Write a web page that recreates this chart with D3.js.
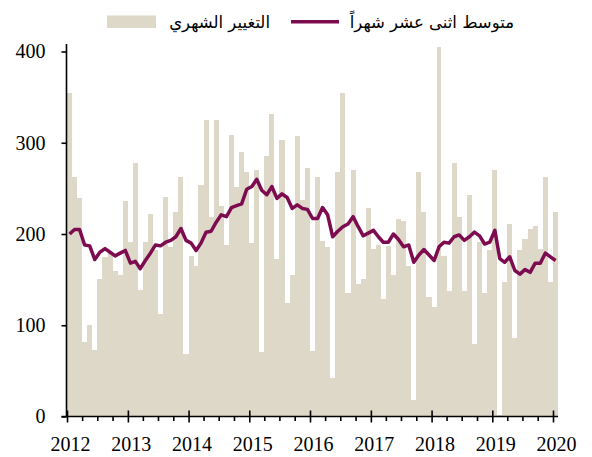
<!DOCTYPE html>
<html><head><meta charset="utf-8">
<script src="https://cdn.jsdelivr.net/npm/d3@7"></script>
<style>body{margin:0;background:#fff}svg{display:block}</style>
</head><body>
<svg id="chart" width="592" height="457"></svg>
<script>
// ---- data ----
const startYear = 2012;
const monthlyChange = [
  355, 263, 239, 82, 100, 73, 151, 175, 180, 160, 155, 236,
  191, 278, 139, 191, 222, 182, 112, 241, 186, 224, 263, 69,
  176, 165, 254, 325, 219, 325, 231, 188, 309, 252, 290, 268,
  190, 270, 71, 285, 332, 173, 303, 124, 155, 307, 237, 272,
  72, 263, 192, 186, 42, 268, 354, 135, 270, 145, 151, 229,
  184, 188, 129, 187, 155, 216, 214, 165, 18, 268, 224, 131,
  120, 405, 176, 137, 278, 219, 137, 243, 79, 191, 135, 182,
  270, 2, 147, 211, 86, 182, 194, 206, 209, 184, 262, 147,
  224
];
const movingAvg12 = [
  200, 205, 205, 188, 187, 172, 180, 184, 180, 176, 179, 182,
  168, 170, 162, 171, 179, 188, 187, 191, 193, 197, 206, 193,
  190, 182, 190, 202, 203, 213, 221, 219, 229, 231, 233, 249,
  252, 260, 248, 243, 252, 239, 244, 240, 228, 232, 228, 227,
  217, 217, 229, 221, 197, 203, 208, 211, 219, 208, 198, 201,
  204, 197, 191, 191, 200, 194, 186, 188, 169, 177, 183, 177,
  171, 186, 191, 190, 197, 199, 193, 197, 202, 198, 189, 191,
  204, 173, 169, 175, 160, 156, 161, 158, 168, 168, 179, 175,
  171
];
const yTickValues = [0, 100, 200, 300, 400];
const yearTickValues = [2012, 2013, 2014, 2015, 2016, 2017, 2018, 2019, 2020];
const legendLabels = ["التغيير الشهري", "متوسط اثنى عشر شهراً"];

// ---- style ----
const barColor = "#ddd8c7";
const lineColor = "#7c0b4f";
const serif = "'Liberation Serif','Times New Roman',serif";
const sans = "'DejaVu Sans','Liberation Sans',sans-serif";

const svg = d3.select("#chart");
const months = monthlyChange.map((_, i) => new Date(startYear, i, 1));

const x = d3.scaleTime()
  .domain([new Date(2012, 0, 1), new Date(2020, 0, 1)])
  .range([67, 553]);
const y = d3.scaleLinear().domain([0, 400]).range([416.5, 51.5]);

// bars
svg.append("g").selectAll("rect").data(months).join("rect")
  .attr("x", d => x(d))
  .attr("width", d => x(d3.timeMonth.offset(d, 1)) - x(d))
  .attr("y", (d, i) => y(monthlyChange[i]))
  .attr("height", (d, i) => y(0) - y(monthlyChange[i]))
  .attr("fill", barColor)
  .attr("shape-rendering", "crispEdges");

// line
const mid = d => new Date((+d + +d3.timeMonth.offset(d, 1)) / 2);
svg.append("path")
  .datum(months)
  .attr("fill", "none")
  .attr("stroke", lineColor)
  .attr("stroke-width", 3.5)
  .attr("stroke-linejoin", "round")
  .attr("d", d3.line().x(d => x(mid(d))).y((d, i) => y(movingAvg12[i])));

// y axis
const yAxis = svg.append("g").attr("transform", "translate(66.5,0)")
  .call(d3.axisLeft(y).tickValues(yTickValues).tickSize(5).tickPadding(16).tickSizeOuter(0));
yAxis.select(".domain").attr("d", `M0,${y(0)}V44`);
yAxis.selectAll("path,line").attr("stroke", "#000").attr("stroke-width", 1.6);
yAxis.selectAll("text").attr("font-family", serif).attr("font-size", 20).attr("fill", "#000");

// x axis: minor quarterly ticks
const quarterTicks = d3.timeMonth.range(new Date(2012, 0, 1), new Date(2020, 0, 2), 3)
  .filter(d => d.getMonth() !== 0);
const xMinor = svg.append("g").attr("transform", `translate(0,${y(0)})`)
  .call(d3.axisBottom(x).tickValues(quarterTicks).tickSize(4.5).tickFormat(""));
xMinor.select(".domain").remove();
xMinor.selectAll("line").attr("stroke", "#000").attr("stroke-width", 1.6);

// x axis: yearly major ticks
const xAxis = svg.append("g").attr("transform", `translate(0,${y(0)})`)
  .call(d3.axisBottom(x)
    .tickValues(yearTickValues.map(yr => new Date(yr, 0, 1)))
    .tickFormat(d3.timeFormat("%Y"))
    .tickSize(6).tickPadding(14).tickSizeOuter(0));
xAxis.select(".domain").attr("d", `M61.5,0H558`);
xAxis.selectAll("line").attr("y1", -6);
xAxis.selectAll("path,line").attr("stroke", "#000").attr("stroke-width", 1.6);
xAxis.selectAll("text").attr("font-family", serif).attr("font-size", 20)
  .attr("fill", "#000").attr("dx", 3);

// legend
const lg = svg.append("g");
lg.append("rect").attr("x", 107).attr("y", 15.5).attr("width", 49).attr("height", 12.5).attr("fill", barColor);
lg.append("text").attr("x", 270).attr("y", 28).attr("text-anchor", "end")
  .attr("font-family", sans).attr("font-size", 16.5).attr("fill", "#000")
  .text(legendLabels[0]);
lg.append("line").attr("x1", 291).attr("x2", 339).attr("y1", 21.7).attr("y2", 21.7)
  .attr("stroke", lineColor).attr("stroke-width", 3.5);
lg.append("text").attr("x", 514).attr("y", 28).attr("text-anchor", "end")
  .attr("font-family", sans).attr("font-size", 16.5).attr("fill", "#000")
  .text(legendLabels[1]);
</script>
</body></html>
